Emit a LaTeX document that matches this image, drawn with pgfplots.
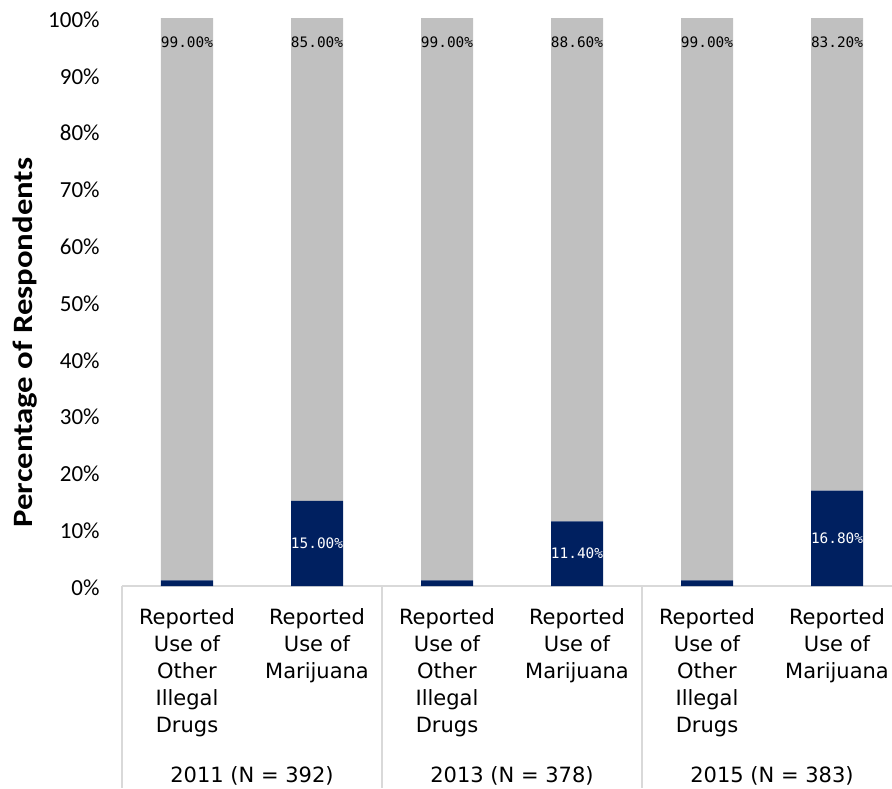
\documentclass[border=0pt]{standalone}
\usepackage{pgfplots}
\pgfplotsset{compat=1.18}
\usepackage{fontspec}
\setmainfont{DejaVu Sans}
\newfontfamily\carlito{Carlito}
\newfontfamily\monofont{DejaVu Sans Mono}
\definecolor{navy}{HTML}{002060}
\definecolor{barGray}{HTML}{C0C0C0}
\definecolor{lineGray}{HTML}{D9D9D9}
\tikzset{datlab/.style={font=\monofont\fontsize{7.2}{8}\selectfont, inner sep=0pt}}
\begin{document}
\begin{tikzpicture}
\begin{axis}[
  width=385pt, height=284pt, scale only axis,
  xmin=-0.5, xmax=5.4231, ymin=0, ymax=100,
  ybar stacked, bar width=26pt,
  axis x line*=bottom, axis y line*=left,
  x axis line style={draw=lineGray, line width=1pt},
  y axis line style={draw=none},
  tick style={draw=none},
  xtick={0,...,5},
  xticklabels={{Reported\\Use of\\Other\\Illegal\\Drugs},{Reported\\Use of\\Marijuana},{Reported\\Use of\\Other\\Illegal\\Drugs},{Reported\\Use of\\Marijuana},{Reported\\Use of\\Other\\Illegal\\Drugs},{Reported\\Use of\\Marijuana}},
  xticklabel style={align=center, anchor=north, inner sep=0pt, yshift=-11pt, font=\fontsize{10.5}{13.5}\selectfont},
  ytick={0,10,...,100},
  yticklabels={0\%,10\%,20\%,30\%,40\%,50\%,60\%,70\%,80\%,90\%,100\%},
  yticklabel style={font=\carlito\fontsize{11.5}{12}\selectfont, anchor=east, inner sep=0pt, xshift=-11pt, yshift=-0.75pt},
  ylabel={Percentage of Respondents},
  every axis y label/.style={at={(axis description cs:0,0.4285)}, xshift=-44.5pt, rotate=90, xscale=1.17, anchor=base, font=\carlito\bfseries\fontsize{14}{16}\selectfont},
  clip=false,
]
\addplot[fill=navy, draw=none] coordinates {(0,1) (1,15) (2,1) (3,11.4) (4,1) (5,16.8)};
\addplot[fill=barGray, draw=none] coordinates {(0,99) (1,85) (2,99) (3,88.6) (4,99) (5,83.2)};
\coordinate (O) at (rel axis cs:0,0);
\coordinate (t0) at (axis cs:0,100);
\coordinate (t1) at (axis cs:1,100);
\coordinate (t2) at (axis cs:2,100);
\coordinate (t3) at (axis cs:3,100);
\coordinate (t4) at (axis cs:4,100);
\coordinate (t5) at (axis cs:5,100);
\coordinate (m1) at (axis cs:1,7.5);
\coordinate (m3) at (axis cs:3,5.7);
\coordinate (m5) at (axis cs:5,8.4);
% separators
\draw[lineGray, line width=1pt] (axis cs:-0.5,0) -- ([yshift=-101pt]axis cs:-0.5,0);
\draw[lineGray, line width=1pt] (axis cs:1.5,0) -- ([yshift=-101pt]axis cs:1.5,0);
\draw[lineGray, line width=1pt] (axis cs:3.5,0) -- ([yshift=-101pt]axis cs:3.5,0);
% group labels
\node[anchor=base, font=\fontsize{10.5}{13.5}\selectfont, yshift=-98pt] at (axis cs:0.5,0) {2011 (N = 392)};
\node[anchor=base, font=\fontsize{10.5}{13.5}\selectfont, yshift=-98pt] at (axis cs:2.5,0) {2013 (N = 378)};
\node[anchor=base, font=\fontsize{10.5}{13.5}\selectfont, yshift=-98pt] at (axis cs:4.5,0) {2015 (N = 383)};
\end{axis}
% data labels on top of the bars
\node[datlab, anchor=base, yshift=-14.75pt] at (t0) {99.00\%};
\node[datlab, anchor=base, yshift=-14.75pt] at (t1) {85.00\%};
\node[datlab, anchor=base, yshift=-14.75pt] at (t2) {99.00\%};
\node[datlab, anchor=base, yshift=-14.75pt] at (t3) {88.60\%};
\node[datlab, anchor=base, yshift=-14.75pt] at (t4) {99.00\%};
\node[datlab, anchor=base, yshift=-14.75pt] at (t5) {83.20\%};
\node[datlab, anchor=center, text=white] at (m1) {15.00\%};
\node[datlab, anchor=center, text=white] at (m3) {11.40\%};
\node[datlab, anchor=center, text=white] at (m5) {16.80\%};
\pgfresetboundingbox
\path ([shift={(-61pt,-101pt)}]O) rectangle ([shift={(385pt,293pt)}]O);
\end{tikzpicture}
\end{document}
